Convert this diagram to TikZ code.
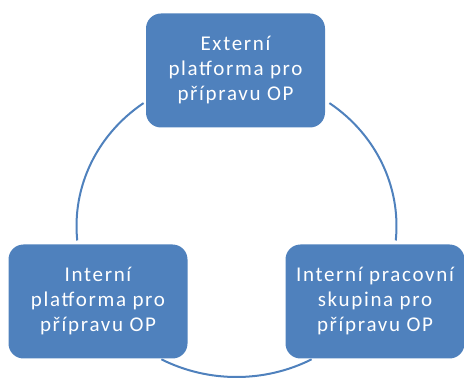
\documentclass[tikz,border=0pt]{standalone}
\usepackage{fontspec}
\setmainfont{Carlito}
\newfontfamily\stagefont{Carlito}[LetterSpace=8]
\usetikzlibrary{calc, positioning}
\definecolor{stageblue}{RGB}{79,129,189}
\tikzstyle{stage} = [rectangle, rounded corners=15pt, align=center,
	minimum width=179pt, minimum height=114pt, fill=stageblue, text=white,
	font=\stagefont\fontsize{21}{25}\selectfont]
\tikzstyle{cycle} = [draw=stageblue, line width=2pt]

\begin{document}
\begin{tikzpicture}[x=1pt, y=1pt]
	\useasboundingbox (0,0) rectangle (464,378);

	% set up nodes
	\coordinate (hub) at (236.5,152);
	\node (ext) [stage] at (235.5,307.5) {Externí\\platforma pro\\přípravu OP};
	\node (intplat) [stage] at (98,76.5) {Interní\\platforma pro\\přípravu OP};
	\node (intgrp) [stage] at (375,76.5) {Interní pracovní\\skupina pro\\přípravu OP};

	% set up arcs between nodes
	\draw [cycle] ($(hub)+(125.5:160pt and 151pt)$) arc[start angle=125.5, end angle=185.5, x radius=160pt, y radius=151pt];
	\draw [cycle] ($(hub)+(54.5:160pt and 151pt)$) arc[start angle=54.5, end angle=-5.5, x radius=160pt, y radius=151pt];
	\draw [cycle] ($(hub)+(242:160pt and 151pt)$) arc[start angle=242, end angle=298, x radius=160pt, y radius=151pt];

\end{tikzpicture}
\end{document}
